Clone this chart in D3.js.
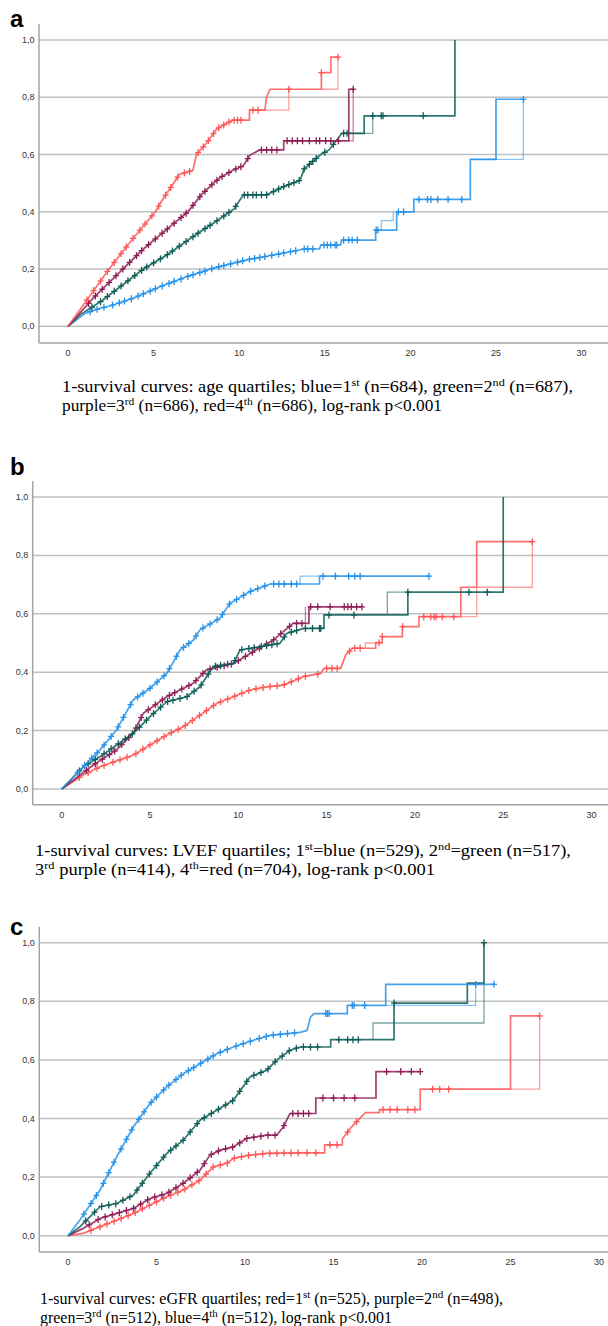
<!DOCTYPE html>
<html>
<head>
<meta charset="utf-8">
<script src="https://cdn.jsdelivr.net/npm/d3@7"></script>
<style>
  body { margin: 0; background: #fff; }
  text { font-family: "Liberation Sans", Arial, sans-serif; }
</style>
</head>
<body>
<script>
// ---- data: [years, 1-survival] ----
var yTicks = [0, 0.2, 0.4, 0.6, 0.8, 1.0];
var xTicks = [0, 5, 10, 15, 20, 25, 30];

// panel a: age quartiles
var ageBlue = [[0,0],[1.0,0.045],[1.87,0.063],[2.45,0.071],[3.8,0.098],[5.37,0.138],[6.93,0.173],[8.49,0.203],[10.44,0.232],[12.0,0.249],[13.8,0.27],[14.7,0.27],[14.76,0.284],[15.9,0.284],[16.0,0.301],[17.97,0.301],[17.97,0.336],[19.2,0.336],[19.2,0.40],[20.2,0.40],[20.2,0.443],[23.5,0.443],[23.5,0.583],[25.0,0.583],[25.0,0.793],[26.6,0.793]];
var ageBlueAlt = [[18.3,0.336],[18.3,0.369],[19.0,0.369],[19.0,0.40]];
var ageBlueAlt2 = [[23.5,0.583],[26.6,0.583],[26.6,0.793]];
var ageBlueCens = [1.3,1.7,2.1,2.6,3.0,3.3,3.7,4.1,4.4,4.8,5.1,5.5,5.9,6.2,6.6,7.0,7.3,7.7,8.0,8.4,8.8,9.1,9.5,9.9,10.2,10.6,10.9,11.2,11.5,11.9,12.3,12.6,13.0,13.3,13.8,14.0,14.3,14.95,15.15,15.35,15.6,15.7,16.1,16.4,16.6,16.9,18.0,18.1,19.3,19.6,20.5,21.0,21.2,21.6,22.2,23.0,26.6];
var ageGreen = [[0,0],[0.7,0.04],[2.0,0.09],[3.2,0.145],[4.4,0.2],[5.77,0.249],[7.71,0.33],[8.49,0.36],[9.7,0.41],[10.24,0.459],[11.6,0.459],[12.6,0.488],[13.55,0.51],[13.8,0.55],[14.76,0.60],[15.25,0.616],[16.0,0.674],[17.3,0.674],[17.3,0.735],[22.6,0.735],[22.6,1.0]];
var ageGreenAlt = [[16.0,0.674],[17.8,0.674],[17.8,0.735]];
var ageGreenCens = [1.4,1.9,2.3,2.7,3.1,3.5,3.9,4.3,4.6,5.0,5.4,5.8,6.1,6.5,6.9,7.3,7.6,8.0,8.3,8.7,9.1,9.4,9.8,10.3,10.5,10.8,11.0,11.3,11.6,12.0,12.3,12.6,12.9,13.2,13.5,13.8,14.1,14.3,14.5,15.0,15.5,16.1,16.3,17.8,18.3,18.4,20.75];
var agePurple = [[0,0],[1.5,0.1],[3.2,0.2],[4.4,0.27],[5.8,0.34],[7.0,0.40],[7.8,0.46],[8.5,0.50],[8.9,0.52],[9.66,0.546],[10.24,0.561],[10.63,0.598],[11.2,0.616],[12.6,0.616],[12.6,0.648],[16.4,0.648],[16.4,0.828],[16.66,0.828]];
var agePurpleAlt = [[16.4,0.648],[16.66,0.648],[16.66,0.828]];
var agePurpleCens = [1.2,1.6,2.0,2.4,2.8,3.2,3.6,4.0,4.3,4.7,5.1,5.5,5.8,6.2,6.6,6.9,7.3,7.7,8.0,8.4,8.7,9.0,9.4,9.8,10.1,10.5,11.3,11.6,11.9,12.2,12.8,13.1,13.4,13.7,14.1,14.5,14.7,15.05,15.35,15.8,16.66];
var ageRed = [[0,0],[1.2,0.1],[2.4,0.2],[3.7,0.3],[5.1,0.4],[5.5,0.44],[6.5,0.53],[7.3,0.545],[7.5,0.6],[8.1,0.64],[8.7,0.69],[9.6,0.72],[10.6,0.72],[10.6,0.755],[11.5,0.755],[11.6,0.80],[11.8,0.828],[14.8,0.828],[14.8,0.886],[15.35,0.886],[15.35,0.94],[15.77,0.94]];
var ageRedAlt = [[10.6,0.755],[12.9,0.755],[12.9,0.828]];
var ageRedAlt2 = [[14.8,0.828],[15.77,0.828],[15.77,0.94]];
var ageRedCens = [1.1,1.5,1.9,2.3,2.7,3.1,3.4,3.8,4.2,4.5,4.9,5.3,5.7,6.0,6.4,6.8,7.1,7.6,7.9,8.2,8.5,8.8,9.1,9.4,9.7,9.9,10.1,10.8,11.1,12.9,14.8,15.77];

// panel b: LVEF quartiles
var lvefBlue = [[0,0],[1.04,0.065],[2.17,0.134],[3.1,0.202],[4.05,0.305],[5.0,0.345],[5.95,0.396],[6.7,0.476],[7.45,0.51],[7.83,0.545],[8.96,0.585],[9.53,0.636],[10.66,0.676],[11.4,0.693],[11.8,0.702],[14.6,0.702],[14.6,0.729],[20.8,0.729]];
var lvefBlueAlt = [[13.5,0.702],[13.5,0.729],[14.6,0.729]];
var lvefBlueCens = [0.9,1.3,1.7,2.0,2.4,2.8,3.2,3.5,3.9,4.3,4.6,5.0,5.4,5.8,6.1,6.5,6.9,7.2,7.6,8.0,8.4,8.8,9.1,9.5,9.9,10.3,10.7,11.1,11.5,12.0,12.3,12.6,13.0,13.3,14.8,15.5,16.25,16.6,16.9,20.8];
var lvefGreen = [[0,0],[1.23,0.076],[2.17,0.111],[4.06,0.191],[5.0,0.248],[5.95,0.299],[7.08,0.316],[7.83,0.35],[8.58,0.419],[9.72,0.43],[10.1,0.476],[11.2,0.487],[12.36,0.499],[12.74,0.533],[13.7,0.55],[14.85,0.55],[14.85,0.596],[19.6,0.596],[19.6,0.674],[25.0,0.674],[25.0,1.0]];
var lvefGreenAlt = [[18.44,0.596],[18.44,0.674],[19.6,0.674]];
var lvefGreenCens = [1.0,1.5,1.9,2.4,2.8,3.2,3.6,4.0,4.4,4.8,5.2,5.6,6.0,6.3,6.7,7.1,7.5,7.9,8.3,8.7,9.0,9.4,9.8,10.2,10.6,10.9,11.3,11.6,11.9,12.2,12.6,13.0,13.3,13.8,14.2,14.6,14.67,15.13,16.55,19.6,23.06,24.1];
var lvefPurple = [[0,0],[1.79,0.082],[3.1,0.134],[4.05,0.191],[4.62,0.259],[5.95,0.316],[7.45,0.362],[8.2,0.408],[9.72,0.43],[10.85,0.47],[11.98,0.51],[13.1,0.567],[14.0,0.567],[14.0,0.624],[17.0,0.624]];
var lvefPurpleAlt = [[13.1,0.567],[13.8,0.567],[13.8,0.624]];
var lvefPurpleCens = [1.4,1.9,2.3,2.7,3.0,3.4,3.8,4.2,4.5,4.9,5.3,5.7,6.1,6.4,6.8,7.2,7.6,8.0,8.4,8.8,9.2,9.6,10.0,10.4,10.8,11.2,11.6,12.0,12.4,12.9,13.3,13.6,14.1,14.5,15.2,16.0,16.2,16.4,16.7,17.0];
var lvefRed = [[0,0],[1.22,0.048],[2.17,0.076],[4.05,0.116],[5.0,0.151],[5.95,0.185],[6.89,0.213],[7.83,0.253],[8.77,0.293],[9.72,0.316],[10.66,0.339],[11.6,0.35],[12.55,0.356],[13.7,0.385],[14.66,0.396],[14.85,0.413],[15.8,0.413],[16.08,0.459],[16.46,0.482],[17.78,0.482],[17.78,0.501],[18.15,0.501],[18.15,0.522],[19.29,0.522],[19.29,0.556],[20.23,0.556],[20.23,0.59],[22.6,0.59],[22.6,0.691],[23.5,0.691],[23.5,0.847],[26.65,0.847]];
var lvefRedAlt = [[17.2,0.482],[17.2,0.50],[17.78,0.50]];
var lvefRedAlt2 = [[22.6,0.59],[23.5,0.59],[23.5,0.691],[26.65,0.691],[26.65,0.847]];
var lvefRedCens = [1.0,1.5,2.0,2.4,2.9,3.3,3.7,4.2,4.6,5.0,5.4,5.8,6.2,6.6,7.0,7.4,7.8,8.2,8.6,9.0,9.4,9.8,10.2,10.6,11.0,11.4,11.8,12.2,12.6,13.0,13.4,13.8,14.5,15.0,15.3,15.6,16.3,16.6,16.9,17.97,18.15,19.3,20.5,20.9,21.08,21.2,21.55,22.2,26.65];

// panel c: eGFR quartiles
var egfrBlue = [[0,0],[0.68,0.054],[1.81,0.156],[2.75,0.269],[3.69,0.371],[4.63,0.451],[5.58,0.508],[6.51,0.553],[7.46,0.587],[8.4,0.621],[9.34,0.644],[10.47,0.667],[11.41,0.684],[13.1,0.694],[13.5,0.70],[13.7,0.746],[13.9,0.758],[15.78,0.758],[15.78,0.786],[17.95,0.786],[17.95,0.858],[24.07,0.858]];
var egfrBlueAlt = [[17.95,0.786],[23.03,0.786],[23.03,0.858]];
var egfrBlueCens = [0.9,1.3,1.6,2.0,2.3,2.6,3.0,3.3,3.6,4.0,4.3,4.7,5.0,5.4,5.7,6.1,6.4,6.8,7.1,7.5,7.9,8.2,8.6,9.0,9.5,9.9,10.3,10.8,11.2,11.6,12.0,12.4,12.8,14.56,14.65,14.75,16.06,16.16,16.76,23.03,24.07];
var egfrGreen = [[0,0],[0.68,0.031],[1.81,0.099],[2.75,0.11],[3.69,0.139],[4.63,0.213],[5.58,0.281],[6.51,0.326],[7.46,0.394],[8.4,0.428],[9.34,0.462],[10.28,0.542],[11.23,0.565],[11.79,0.599],[12.54,0.633],[13.1,0.644],[14.84,0.644],[14.84,0.669],[18.42,0.669],[18.42,0.794],[22.56,0.794],[22.56,0.862],[23.5,0.862],[23.5,1.0]];
var egfrGreenAlt = [[17.23,0.669],[17.23,0.726],[23.5,0.726],[23.5,0.862]];
var egfrGreenCens = [1.0,1.5,1.9,2.3,2.7,3.1,3.5,3.9,4.2,4.6,5.0,5.4,5.8,6.1,6.5,6.9,7.3,7.7,8.1,8.5,8.9,9.3,9.7,10.1,10.5,10.9,11.3,11.7,12.1,12.5,12.9,13.3,13.7,14.1,15.3,15.8,16.1,16.4,18.42,23.5];
var egfrPurple = [[0,0],[0.86,0.025],[1.81,0.059],[2.75,0.076],[3.69,0.093],[4.63,0.127],[5.58,0.144],[6.51,0.179],[7.46,0.224],[8.02,0.275],[8.59,0.292],[9.34,0.303],[10.1,0.332],[11.23,0.343],[11.79,0.343],[12.16,0.371],[12.54,0.417],[14.0,0.417],[14.0,0.47],[17.4,0.47],[17.4,0.56],[19.9,0.56]];
var egfrPurpleCens = [1.2,1.7,2.1,2.5,2.9,3.3,3.7,4.1,4.5,4.9,5.3,5.7,6.1,6.5,6.9,7.3,7.7,8.1,8.5,8.9,9.3,9.7,10.1,10.5,10.9,11.3,11.7,12.2,12.7,13.0,13.3,13.6,14.4,15.0,15.6,16.2,18.0,18.8,19.4,19.9];
var egfrRed = [[0,0],[0.86,0.008],[1.81,0.031],[2.75,0.053],[3.69,0.076],[4.63,0.105],[5.58,0.133],[6.51,0.156],[7.46,0.19],[8.21,0.235],[8.97,0.247],[9.34,0.264],[10.28,0.275],[11.23,0.281],[13.33,0.283],[14.5,0.283],[14.5,0.31],[15.5,0.31],[15.5,0.33],[16.0,0.37],[16.8,0.42],[17.6,0.42],[17.6,0.43],[19.9,0.43],[19.9,0.50],[25.0,0.50],[25.0,0.75],[26.65,0.75]];
var egfrRedAlt = [[25.0,0.50],[26.65,0.50],[26.65,0.75]];
var egfrRedCens = [1.3,1.8,2.2,2.6,3.0,3.4,3.8,4.2,4.6,5.0,5.4,5.8,6.2,6.6,7.0,7.4,7.8,8.2,8.6,9.0,9.4,9.8,10.2,10.6,11.0,11.4,11.8,12.2,12.6,13.0,13.5,14.0,14.8,15.2,15.8,16.3,17.8,18.2,18.6,19.2,19.6,20.6,21.0,21.5,26.65];

var captionA = ["1-survival curves: age quartiles; blue=1^st (n=684), green=2^nd (n=687),",
                "purple=3^rd (n=686), red=4^th (n=686), log-rank p<0.001"];
var captionB = ["1-survival curves: LVEF quartiles; 1^st=blue (n=529), 2^nd=green (n=517),",
                "3^rd purple (n=414), 4^th=red (n=704), log-rank p<0.001"];
var captionC = ["1-survival curves: eGFR quartiles; red=1^st (n=525), purple=2^nd (n=498),",
                "green=3^rd (n=512), blue=4^th (n=512), log-rank p<0.001"];

var BLUE = "#2592ea", GREEN = "#0d5d57", PURPLE = "#8f1c55", RED = "#ff5656";

var panels = [
  { label: "a", labelY: 27, axisX: 39, top: 24, bottom: 343, x0: 68, x30: 581.6, y0: 326.3, y1: 40,
    capX: 62, capY: 392, capSize: 16.5, capW: [511, 380], caption: captionA,
    series: [
      { c: BLUE, main: ageBlue, alts: [ageBlueAlt, ageBlueAlt2], cens: ageBlueCens },
      { c: GREEN, main: ageGreen, alts: [ageGreenAlt], cens: ageGreenCens },
      { c: PURPLE, main: agePurple, alts: [agePurpleAlt], cens: agePurpleCens },
      { c: RED, main: ageRed, alts: [ageRedAlt, ageRedAlt2], cens: ageRedCens } ] },
  { label: "b", labelY: 475, axisX: 32.7, top: 481, bottom: 804.7, x0: 61.7, x30: 591.5, y0: 789, y1: 497,
    capX: 35, capY: 856, capSize: 16.5, capW: [536, 400], caption: captionB,
    series: [
      { c: RED, main: lvefRed, alts: [lvefRedAlt, lvefRedAlt2], cens: lvefRedCens },
      { c: PURPLE, main: lvefPurple, alts: [lvefPurpleAlt], cens: lvefPurpleCens },
      { c: GREEN, main: lvefGreen, alts: [lvefGreenAlt], cens: lvefGreenCens },
      { c: BLUE, main: lvefBlue, alts: [lvefBlueAlt], cens: lvefBlueCens } ] },
  { label: "c", labelY: 935, axisX: 39.3, top: 926.7, bottom: 1252, x0: 68, x30: 599, y0: 1235.7, y1: 942.7,
    capX: 40, capY: 1304, capSize: 16, capW: [463, 352], caption: captionC,
    series: [
      { c: RED, main: egfrRed, alts: [egfrRedAlt], cens: egfrRedCens },
      { c: PURPLE, main: egfrPurple, alts: [], cens: egfrPurpleCens },
      { c: GREEN, main: egfrGreen, alts: [egfrGreenAlt], cens: egfrGreenCens },
      { c: BLUE, main: egfrBlue, alts: [egfrBlueAlt], cens: egfrBlueCens } ] }
];

var svg = d3.select("body").append("svg").attr("width", 608).attr("height", 1326);

function valueAt(path, t) {
  var i = -1;
  for (var k = 0; k < path.length; k++) if (path[k][0] <= t) i = k;
  if (i < 0) return 0;
  if (i === path.length - 1) return path[i][1];
  var a = path[i], b = path[i + 1];
  if (b[0] === a[0]) return a[1];
  return a[1] + (b[1] - a[1]) * (t - a[0]) / (b[0] - a[0]);
}

function drawPanel(p) {
  var g = svg.append("g");
  var x = d3.scaleLinear().domain([0, 30]).range([p.x0, p.x30]);
  var y = d3.scaleLinear().domain([0, 1]).range([p.y0, p.y1]);

  g.append("text").attr("x", 10).attr("y", p.labelY).text(p.label)
    .style("font-size", "24px").style("font-weight", "bold").attr("fill", "#000");

  // grid
  g.selectAll(".grid").data(yTicks).enter().append("line")
    .attr("x1", p.axisX).attr("x2", 608)
    .attr("y1", function (d) { return y(d); }).attr("y2", function (d) { return y(d); })
    .attr("stroke", "#c0c0c0").attr("stroke-width", 1.5);

  // axis lines
  g.append("line").attr("x1", p.axisX).attr("x2", p.axisX).attr("y1", p.top).attr("y2", p.bottom)
    .attr("stroke", "#a4a4a4").attr("stroke-width", 1.5);
  g.append("line").attr("x1", p.axisX).attr("x2", 608).attr("y1", p.bottom).attr("y2", p.bottom)
    .attr("stroke", "#a4a4a4").attr("stroke-width", 1.5);

  var fmt = function (d) { return d3.format(".1f")(d).replace(".", ","); };
  g.selectAll(".yl").data(yTicks).enter().append("text")
    .attr("x", p.axisX - 4.5).attr("y", function (d) { return y(d) + 3; })
    .attr("text-anchor", "end").style("font-size", "9px").attr("fill", "#333").text(fmt);
  g.selectAll(".xl").data(xTicks).enter().append("text")
    .attr("x", function (d) { return x(d); }).attr("y", p.bottom + 13)
    .attr("text-anchor", "middle").style("font-size", "9px").attr("fill", "#333").text(function (d) { return d; });

  var line = d3.line().x(function (d) { return x(d[0]); }).y(function (d) { return y(d[1]); });

  p.series.forEach(function (s) {
    s.alts.forEach(function (a) {
      g.append("path").attr("d", line(a)).attr("fill", "none").attr("stroke", s.c)
        .attr("stroke-width", 1.3).attr("stroke-opacity", 0.55);
    });
    g.append("path").attr("d", line(s.main)).attr("fill", "none").attr("stroke", s.c)
      .attr("stroke-width", 1.7).attr("stroke-opacity", 0.85);
    // censor marks drawn as "+"
    var cg = g.selectAll(null).data(s.cens).enter().append("g")
      .attr("transform", function (d) { return "translate(" + x(d) + "," + y(valueAt(s.main, d)) + ")"; });
    cg.append("line").attr("y1", -3.5).attr("y2", 3.5).attr("stroke", s.c).attr("stroke-width", 1.3);
    cg.append("line").attr("x1", -3).attr("x2", 3).attr("stroke", s.c).attr("stroke-width", 1.3);
  });

  // caption
  p.caption.forEach(function (ln, i) {
    var t = g.append("text").attr("x", p.capX).attr("y", p.capY + i * 19)
      .attr("textLength", p.capW[i]).attr("lengthAdjust", "spacingAndGlyphs")
      .style("font-family", "'Liberation Serif', 'Times New Roman', serif")
      .style("font-size", p.capSize + "px").attr("fill", "#000");
    var parts = ln.split(/\^(st|nd|rd|th)/);
    parts.forEach(function (part, j) {
      if (j % 2 === 1) {
        t.append("tspan").attr("dy", -6).style("font-size", "11px").text(part);
      } else if (j > 0) {
        t.append("tspan").attr("dy", 6).text(part);
      } else {
        t.append("tspan").text(part);
      }
    });
  });
}

panels.forEach(drawPanel);
</script>
</body>
</html>
